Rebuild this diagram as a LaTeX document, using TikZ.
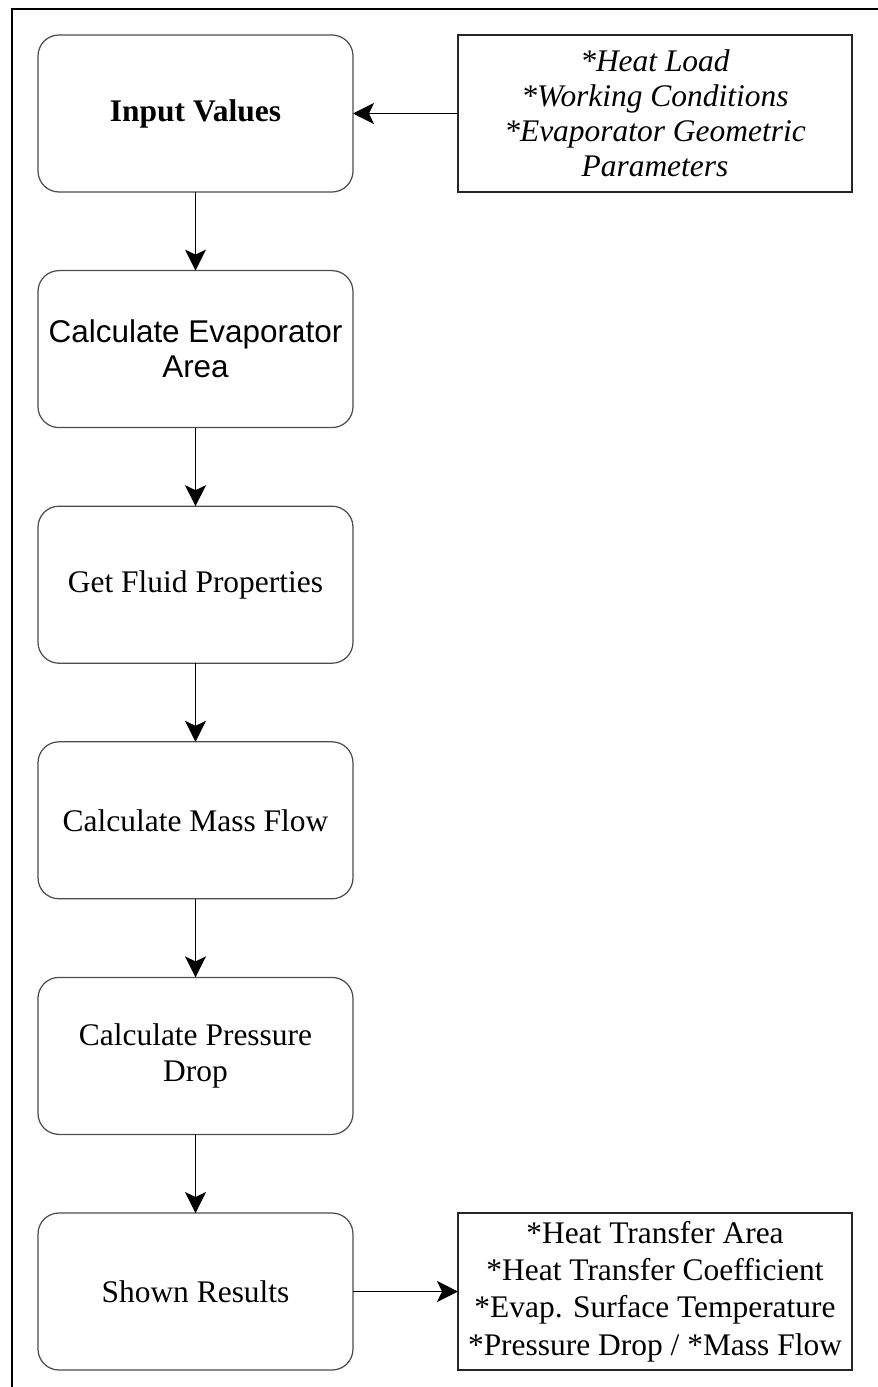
\documentclass[tikz,border=0pt]{standalone}
\usepackage{fontspec}
\setmainfont{Liberation Serif}
\newfontfamily\arialfont{Liberation Sans}
\usepackage{tikz}
\usetikzlibrary{positioning,arrows.meta}
\tikzset{
  proc/.style={draw=black!70,line width=0.7pt,rounded corners=0.42cm,align=center,minimum width=6.3cm,minimum height=3.14cm,inner sep=2pt,outer sep=0pt,font=\fontsize{17.9}{20}\selectfont},
  note/.style={draw=black!85,line width=0.8pt,align=center,minimum width=7.88cm,minimum height=3.14cm,inner sep=2pt,outer sep=0pt,font=\fontsize{17.9}{21.3}\selectfont},
  arr/.style={-{Stealth[length=0.42cm,width=0.42cm,inset=0.1cm]},line width=0.75pt},
  frame/.style={line width=1.1pt},
}
\begin{document}
\begin{tikzpicture}[node distance=1.572cm]
\useasboundingbox (0,0) rectangle (17.56,-27.74);
\draw[frame] (0.234,-27.74) |- (17.56,-0.18);
\node[proc] (inp) at (3.91,-2.27) {\textbf{Input Values}};
\node[proc, below=of inp] (area) {\arialfont Calculate Evaporator\\\arialfont Area};
\node[proc, below=of area] (fluid) {Get Fluid Properties};
\node[proc, below=of fluid] (mass) {Calculate Mass Flow};
\node[proc, below=of mass] (drop) {Calculate Pressure\\Drop};
\node[proc, below=of drop] (res) {Shown Results};
\node[note, right=2.1cm of inp, font=\fontsize{17.9}{20}\selectfont\itshape] (data) {*Heat Load\\*Working Conditions\\*Evaporator Geometric\\Parameters};
\node[note, right=2.1cm of res] (out) {*Heat Transfer Area\\*Heat Transfer Coefficient\\*Evap. Surface Temperature\\*Pressure Drop / *Mass Flow};
\draw[arr] (data) -- (inp);
\draw[arr] (inp) -- (area);
\draw[arr] (area) -- (fluid);
\draw[arr] (fluid) -- (mass);
\draw[arr] (mass) -- (drop);
\draw[arr] (drop) -- (res);
\draw[arr] (res) -- (out);
\end{tikzpicture}
\end{document}
